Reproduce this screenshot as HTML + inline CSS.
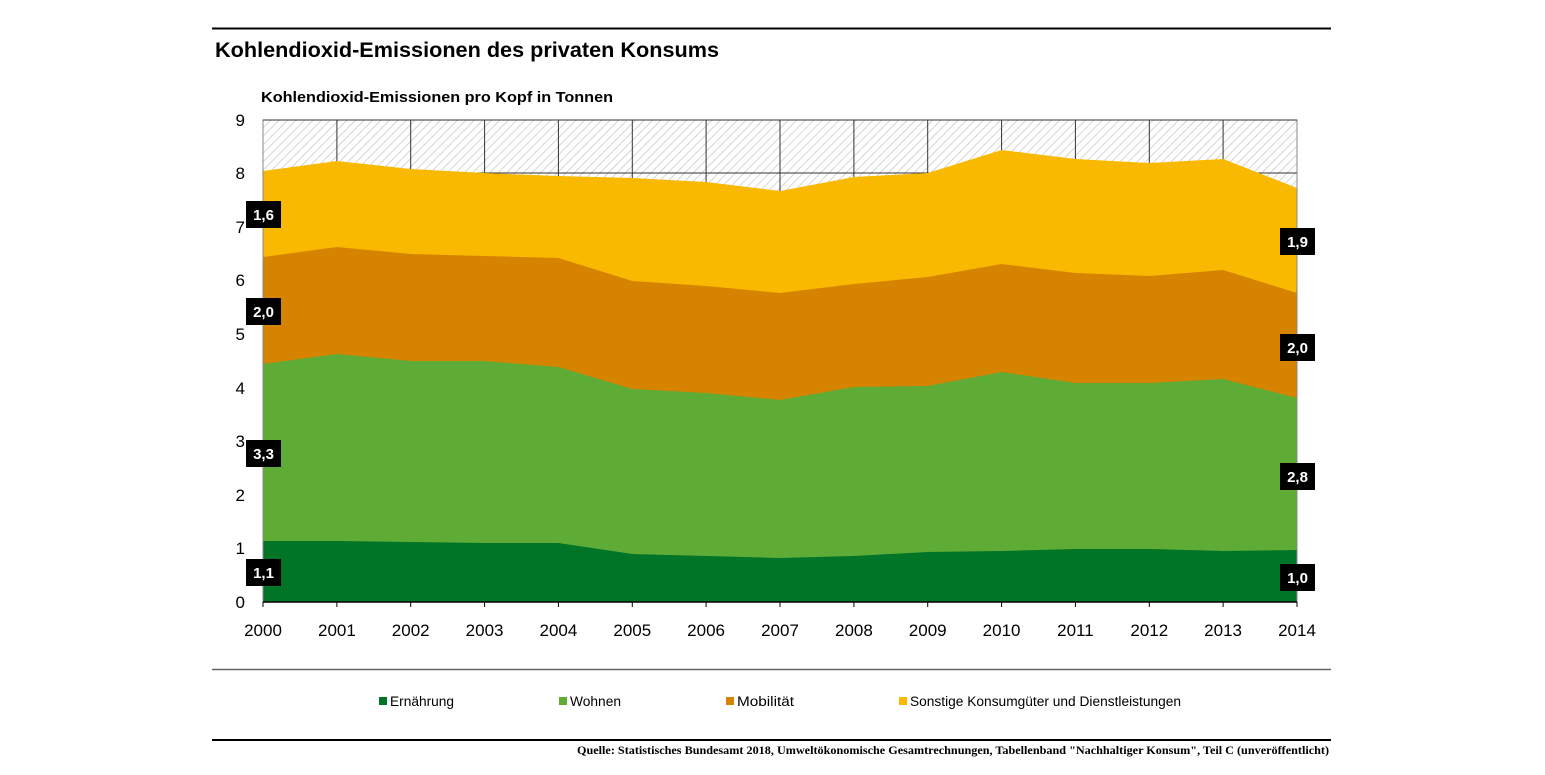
<!DOCTYPE html>
<html><head><meta charset="utf-8"><style>
body{margin:0;background:#fff;width:1545px;height:775px;overflow:hidden}
svg{display:block}
</style></head><body>
<svg width="1545" height="775" xmlns="http://www.w3.org/2000/svg" font-family="Liberation Sans, sans-serif">
<defs>
<pattern id="h" width="6" height="6" patternUnits="userSpaceOnUse" patternTransform="rotate(45)">
<rect width="6" height="6" fill="#fff"/><line x1="0" y1="0" x2="0" y2="6" stroke="#c8c8c8" stroke-width="1.5"/>
</pattern>
</defs>
<line x1="212" y1="28.5" x2="1331" y2="28.5" stroke="#000" stroke-width="2"/>
<text x="215" y="57" font-size="21" font-weight="bold" textLength="504" lengthAdjust="spacingAndGlyphs">Kohlendioxid-Emissionen des privaten Konsums</text>
<text x="261" y="102" font-size="15" font-weight="bold" textLength="352" lengthAdjust="spacingAndGlyphs">Kohlendioxid-Emissionen pro Kopf in Tonnen</text>
<rect x="263" y="120" width="1034" height="482" fill="url(#h)"/>
<g stroke="#333" stroke-width="1">
<line x1="336.9" y1="120" x2="336.9" y2="602"/><line x1="410.7" y1="120" x2="410.7" y2="602"/><line x1="484.6" y1="120" x2="484.6" y2="602"/><line x1="558.4" y1="120" x2="558.4" y2="602"/><line x1="632.3" y1="120" x2="632.3" y2="602"/><line x1="706.1" y1="120" x2="706.1" y2="602"/><line x1="780" y1="120" x2="780" y2="602"/><line x1="853.9" y1="120" x2="853.9" y2="602"/><line x1="927.7" y1="120" x2="927.7" y2="602"/><line x1="1001.6" y1="120" x2="1001.6" y2="602"/><line x1="1075.4" y1="120" x2="1075.4" y2="602"/><line x1="1149.3" y1="120" x2="1149.3" y2="602"/><line x1="1223.1" y1="120" x2="1223.1" y2="602"/>
<line x1="263" y1="173" x2="1297" y2="173"/>
</g>
<polygon fill="#f9b900" points="263,171 336.9,161 410.7,169 484.6,173 558.4,176 632.3,178 706.1,182 780,191 853.9,177 927.7,173 1001.6,150 1075.4,159 1149.3,163 1223.1,159 1297,188 1297,602 263,602"/>
<polygon fill="#d68400" points="263,257 336.9,247 410.7,254 484.6,256 558.4,258 632.3,281 706.1,286 780,293 853.9,284 927.7,277 1001.6,264 1075.4,273 1149.3,276 1223.1,270 1297,293 1297,602 263,602"/>
<polygon fill="#5eab36" points="263,364 336.9,354 410.7,361 484.6,361 558.4,367 632.3,389 706.1,393 780,400 853.9,387 927.7,386 1001.6,372 1075.4,383 1149.3,383 1223.1,379 1297,398 1297,602 263,602"/>
<polygon fill="#007427" points="263,541 336.9,541 410.7,542 484.6,543 558.4,543 632.3,554 706.1,556 780,558 853.9,556 927.7,552 1001.6,551 1075.4,549 1149.3,549 1223.1,551 1297,550 1297,602 263,602"/>
<rect x="263" y="120" width="1034" height="482" fill="none" stroke="#888" stroke-width="1"/>
<line x1="263" y1="120" x2="1297" y2="120" stroke="#333"/>
<line x1="263" y1="602" x2="1297" y2="602" stroke="#000" stroke-width="1.5"/>
<g stroke="#000" stroke-width="1">
<line x1="263" y1="602" x2="263" y2="607"/><line x1="336.9" y1="602" x2="336.9" y2="607"/><line x1="410.7" y1="602" x2="410.7" y2="607"/><line x1="484.6" y1="602" x2="484.6" y2="607"/><line x1="558.4" y1="602" x2="558.4" y2="607"/><line x1="632.3" y1="602" x2="632.3" y2="607"/><line x1="706.1" y1="602" x2="706.1" y2="607"/><line x1="780" y1="602" x2="780" y2="607"/><line x1="853.9" y1="602" x2="853.9" y2="607"/><line x1="927.7" y1="602" x2="927.7" y2="607"/><line x1="1001.6" y1="602" x2="1001.6" y2="607"/><line x1="1075.4" y1="602" x2="1075.4" y2="607"/><line x1="1149.3" y1="602" x2="1149.3" y2="607"/><line x1="1223.1" y1="602" x2="1223.1" y2="607"/><line x1="1297" y1="602" x2="1297" y2="607"/>
</g>
<g font-size="17" text-anchor="end">
<text x="245" y="608">0</text><text x="245" y="554">1</text><text x="245" y="501">2</text><text x="245" y="447">3</text><text x="245" y="394">4</text><text x="245" y="340">5</text><text x="245" y="286">6</text><text x="245" y="233">7</text><text x="245" y="179">8</text><text x="245" y="126">9</text>
</g>
<g font-size="17" text-anchor="middle">
<text x="263" y="636">2000</text><text x="336.9" y="636">2001</text><text x="410.7" y="636">2002</text><text x="484.6" y="636">2003</text><text x="558.4" y="636">2004</text><text x="632.3" y="636">2005</text><text x="706.1" y="636">2006</text><text x="780" y="636">2007</text><text x="853.9" y="636">2008</text><text x="927.7" y="636">2009</text><text x="1001.6" y="636">2010</text><text x="1075.4" y="636">2011</text><text x="1149.3" y="636">2012</text><text x="1223.1" y="636">2013</text><text x="1297" y="636">2014</text>
</g>
<g font-size="15" font-weight="bold" text-anchor="middle">
<rect x="246" y="201" width="35" height="27" fill="#000"/><text x="263.5" y="220" fill="#fff">1,6</text>
<rect x="246" y="298" width="35" height="27" fill="#000"/><text x="263.5" y="317" fill="#fff">2,0</text>
<rect x="246" y="440" width="35" height="27" fill="#000"/><text x="263.5" y="459" fill="#fff">3,3</text>
<rect x="246" y="559" width="35" height="27" fill="#000"/><text x="263.5" y="578" fill="#fff">1,1</text>
<rect x="1280" y="228" width="35" height="27" fill="#000"/><text x="1297.5" y="247" fill="#fff">1,9</text>
<rect x="1280" y="334" width="35" height="27" fill="#000"/><text x="1297.5" y="353" fill="#fff">2,0</text>
<rect x="1280" y="463" width="35" height="27" fill="#000"/><text x="1297.5" y="482" fill="#fff">2,8</text>
<rect x="1280" y="564" width="35" height="27" fill="#000"/><text x="1297.5" y="583" fill="#fff">1,0</text>
</g>
<line x1="212" y1="669.5" x2="1331" y2="669.5" stroke="#666" stroke-width="1.5"/>
<g font-size="13.5">
<rect x="379" y="697" width="8" height="8" fill="#007427"/><text x="390" y="706" textLength="64" lengthAdjust="spacingAndGlyphs">Ernährung</text>
<rect x="559" y="697" width="8" height="8" fill="#5eab36"/><text x="570" y="706" textLength="51" lengthAdjust="spacingAndGlyphs">Wohnen</text>
<rect x="726" y="697" width="8" height="8" fill="#d68400"/><text x="737" y="706" textLength="57" lengthAdjust="spacingAndGlyphs">Mobilität</text>
<rect x="899" y="697" width="8" height="8" fill="#f9b900"/><text x="910" y="706" textLength="271" lengthAdjust="spacingAndGlyphs">Sonstige Konsumgüter und Dienstleistungen</text>
</g>
<line x1="212" y1="740" x2="1331" y2="740" stroke="#000" stroke-width="2"/>
<text x="577" y="754" font-size="11.5" font-weight="bold" textLength="752" lengthAdjust="spacingAndGlyphs" font-family="Liberation Serif, serif">Quelle: Statistisches Bundesamt 2018, Umweltökonomische Gesamtrechnungen, Tabellenband "Nachhaltiger Konsum", Teil C  (unveröffentlicht)</text>
</svg>
</body></html>
